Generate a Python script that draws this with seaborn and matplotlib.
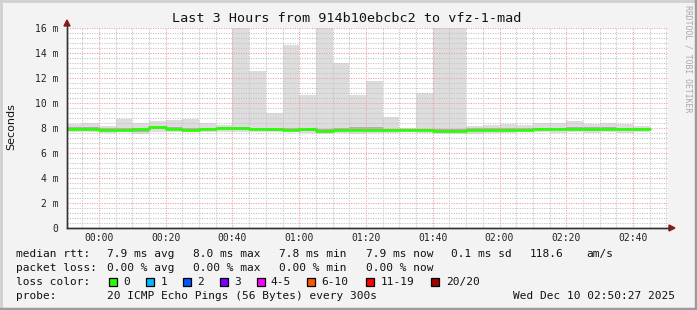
import matplotlib
matplotlib.use("Agg")
import matplotlib.pyplot as plt
import seaborn as sns
import numpy as np
import pandas as pd
from matplotlib.patches import Rectangle
from matplotlib.lines import Line2D

# ---------------- data (5-minute intervals, minutes relative to 00:00) -------
interval_start = [-10, -5, 0, 5, 10, 15, 20, 25, 30, 35, 40, 45, 50, 55, 60, 65,
                  70, 75, 80, 85, 90, 95, 100, 105, 110, 115, 120, 125, 130, 135,
                  140, 145, 150, 155, 160]
smoke_max = [8.29, 8.37, 8.16, 8.72, 8.37, 8.56, 8.64, 8.72, 8.37, 8.24,
             16.5, 12.56, 9.20, 14.64, 10.64, 16.5, 13.2, 10.6, 11.76, 8.88,
             8.00, 10.8, 16.5, 16.5, 8.19, 8.24, 8.29, 8.24, 8.43, 8.43,
             8.59, 8.29, 8.43, 8.29, 8.19]
smoke_min = [7.70, 7.70, 7.62, 7.65, 7.50, 7.70, 7.70, 7.65, 7.68, 7.70,
             7.70, 7.70, 7.65, 7.68, 7.62, 7.55, 7.60, 7.50, 7.60, 7.62,
             7.70, 7.60, 7.52, 7.52, 7.55, 7.62, 7.62, 7.65, 7.70, 7.62,
             7.65, 7.60, 7.65, 7.62, 7.65]
smoke_q1 = [7.85, 7.85, 7.75, 7.80, 7.72, 7.90, 7.85, 7.78, 7.82, 7.88,
            7.88, 7.82, 7.80, 7.78, 7.80, 7.70, 7.75, 7.75, 7.75, 7.75,
            7.80, 7.78, 7.72, 7.72, 7.78, 7.78, 7.78, 7.82, 7.85, 7.82,
            7.82, 7.80, 7.82, 7.82, 7.82]
smoke_q3 = [8.05, 8.08, 7.98, 8.00, 8.00, 8.20, 8.10, 7.98, 8.02, 8.10,
            8.10, 8.00, 8.00, 7.98, 8.02, 7.95, 7.98, 8.05, 8.10, 7.95,
            7.92, 7.95, 7.92, 7.92, 7.98, 7.98, 8.00, 7.98, 8.00, 8.00,
            8.10, 8.05, 8.05, 8.02, 7.98]
median_rtt = [7.95, 7.95, 7.88, 7.88, 7.90, 8.05, 7.95, 7.85, 7.92, 8.02,
              8.00, 7.90, 7.90, 7.85, 7.90, 7.80, 7.85, 7.85, 7.85, 7.85,
              7.85, 7.85, 7.80, 7.80, 7.85, 7.85, 7.85, 7.88, 7.92, 7.90,
              7.90, 7.90, 7.95, 7.92, 7.90]

x_tick_pos = [0, 20, 40, 60, 80, 100, 120, 140, 160]
x_tick_labels = ["00:00", "00:20", "00:40", "01:00", "01:20", "01:40", "02:00", "02:20", "02:40"]
y_tick_pos = [0, 2, 4, 6, 8, 10, 12, 14, 16]
y_tick_labels = ["0", "2 m", "4 m", "6 m", "8 m", "10 m", "12 m", "14 m", "16 m"]

loss_labels = ["0", "1", "2", "3", "4-5", "6-10", "11-19", "20/20"]
loss_colors = ["#26ff00", "#00b8ff", "#0059ff", "#7e00ff", "#ff00ff", "#ff5500", "#ff0000", "#a10000"]

title = "Last 3 Hours from 914b10ebcbc2 to vfz-1-mad"

# ---------------- figure --------------------------------------------------------
sns.set_theme(style="white")
plt.rcParams['font.family'] = ['DejaVu Sans Mono', 'DejaVu Sans']

W, H = 697, 310
fig = plt.figure(figsize=(W / 100, H / 100), dpi=100)
fig.patch.set_facecolor("#f3f3f3")

def fx(x):
    return x / W

def fy(y):
    return 1 - y / H

L, R, T, B = 67, 668, 28, 228
ax = fig.add_axes([fx(L), fy(B), (R - L) / W, (B - T) / H])
ax.set_facecolor("white")

xmin, xmax = -9.55, 170.45
ax.set_xlim(xmin, xmax)
ax.set_ylim(0, 16)

# smoke
heights = [mx - mn for mx, mn in zip(smoke_max, smoke_min)]
ax.bar(interval_start, heights, bottom=smoke_min, width=5, align="edge",
       color="#dddddd", linewidth=0, zorder=1)
qh = [b - a for a, b in zip(smoke_q1, smoke_q3)]
ax.bar(interval_start, qh, bottom=smoke_q1, width=5, align="edge",
       color="#b0b0b0", linewidth=0, zorder=1.5)

# grid (drawn on top of smoke)
minor_x = np.arange(-5, 171, 5)
for v in minor_x:
    if v % 20 != 0:
        ax.axvline(v, color="#c4c4c4", lw=0.8, ls=(0, (1, 1.2)), zorder=2)
for v in np.arange(0.4, 16, 0.4):
    if abs(v / 2 - round(v / 2)) > 1e-6:
        ax.axhline(v, color="#c4c4c4", lw=0.8, ls=(0, (1, 1.2)), zorder=2)
for v in x_tick_pos:
    ax.axvline(v, color="#f0a0a0", lw=0.8, ls=(0, (1, 1.2)), zorder=2.1)
for v in y_tick_pos[1:]:
    ax.axhline(v, color="#f0a0a0", lw=0.8, ls=(0, (1, 1.2)), zorder=2.1)

# median line
edges = interval_start + [interval_start[-1] + 5]
med_df = pd.DataFrame({"t": edges, "rtt": median_rtt + [median_rtt[-1]]})
sns.lineplot(data=med_df, x="t", y="rtt", drawstyle="steps-post", color="#26ff00",
             linewidth=1.9, ax=ax, zorder=3)
ax.set_xlim(xmin, xmax)
ax.set_ylim(0, 16)
ax.set_xlabel("")
ax.set_ylabel("")

# axes styling
for s in ["top", "right"]:
    ax.spines[s].set_visible(False)
for s in ["left", "bottom"]:
    ax.spines[s].set_color("#333333")
    ax.spines[s].set_linewidth(1.0)
    ax.spines[s].set_zorder(4)
ax.set_xticks(x_tick_pos)
ax.set_xticklabels(x_tick_labels)
ax.set_yticks(y_tick_pos)
ax.set_yticklabels(y_tick_labels)
ax.tick_params(axis="both", which="major", direction="out", length=3, width=0.8,
               color="#333333", labelsize=7, labelcolor="#222222", pad=2)
ax.tick_params(axis="x", length=2, pad=1.5)
ax.tick_params(axis="y", pad=3)

# arrows
fig.add_artist(Line2D([fx(L), fx(L)], [fy(B), fy(T - 4)], color="#333333", lw=1.0))
fig.add_artist(Line2D([fx(L), fx(R + 2)], [fy(B), fy(B)], color="#333333", lw=1.0))
fig.add_artist(plt.Polygon([[fx(L - 3), fy(T - 2)], [fx(L + 3), fy(T - 2)], [fx(L), fy(T - 8)]],
                           closed=True, color="#8b1a1a", transform=fig.transFigure))
fig.add_artist(plt.Polygon([[fx(R + 1), fy(B - 3)], [fx(R + 1), fy(B + 3)], [fx(R + 7), fy(B)]],
                           closed=True, color="#8b1a1a", transform=fig.transFigure))

# title & labels
fig.text(fx(347), fy(19), title, ha="center", va="center", fontsize=9.7, color="#111111")
fig.text(fx(11), fy(127), "Seconds", rotation=90, ha="center", va="center",
         fontsize=8, family="DejaVu Sans", color="#111111")
fig.text(fx(688), fy(59), "RRDTOOL / TOBI OETIKER", rotation=-90, ha="center", va="center",
         fontsize=5.9, color="#a8a8a8")

# legend rows
fs = 8
c = "#111111"
row1 = [(16, "median rtt:"), (107, "7.9 ms avg"), (193, "8.0 ms max"), (279, "7.8 ms min"),
        (365.7, "7.9 ms now"), (451, "0.1 ms sd"), (530, "118.6"), (586, "am/s")]
row2 = [(16, "packet loss:"), (107, "0.00 % avg"), (193, "0.00 % max"), (279, "0.00 % min"),
        (365.7, "0.00 % now")]
for x, s in row1:
    fig.text(fx(x), fy(254.3), s, ha="left", va="center", fontsize=fs, color=c)
for x, s in row2:
    fig.text(fx(x), fy(267.7), s, ha="left", va="center", fontsize=fs, color=c)

fig.text(fx(16), fy(282), "loss color:", ha="left", va="center", fontsize=fs, color=c)
sq_x = [108.7, 145.7, 182.7, 219.7, 256.7, 307.3, 365.7, 431]
lab_x = [123, 161, 197, 234, 270.7, 321.7, 380.7, 445.7]
for sx, lx, lab, col in zip(sq_x, lab_x, loss_labels, loss_colors):
    fig.add_artist(Rectangle((fx(sx), fy(286)), 8 / W, 8 / H, facecolor=col,
                             edgecolor="black", lw=0.9, transform=fig.transFigure))
    fig.text(fx(lx), fy(282), lab, ha="left", va="center", fontsize=fs, color=c)

fig.text(fx(16), fy(296), "probe:", ha="left", va="center", fontsize=fs, color=c)
fig.text(fx(107), fy(296), "20 ICMP Echo Pings (56 Bytes) every 300s", ha="left",
         va="center", fontsize=fs, color=c)
fig.text(fx(512.7), fy(296), "Wed Dec 10 02:50:27 2025", ha="left", va="center",
         fontsize=fs, color=c)

# frame
fig.add_artist(Line2D([0.5 / W, 0.5 / W], [0, 1], color="#d0d0d0", lw=2))
fig.add_artist(Line2D([0, 1], [1 - 0.5 / H, 1 - 0.5 / H], color="#d0d0d0", lw=2))
fig.add_artist(Line2D([1 - 1 / W, 1 - 1 / W], [0, 1], color="#9c9c9c", lw=2.5))
fig.add_artist(Line2D([0, 1], [1 / H, 1 / H], color="#9c9c9c", lw=2.5))

fig.savefig("out.png", dpi=100, facecolor=fig.get_facecolor())
